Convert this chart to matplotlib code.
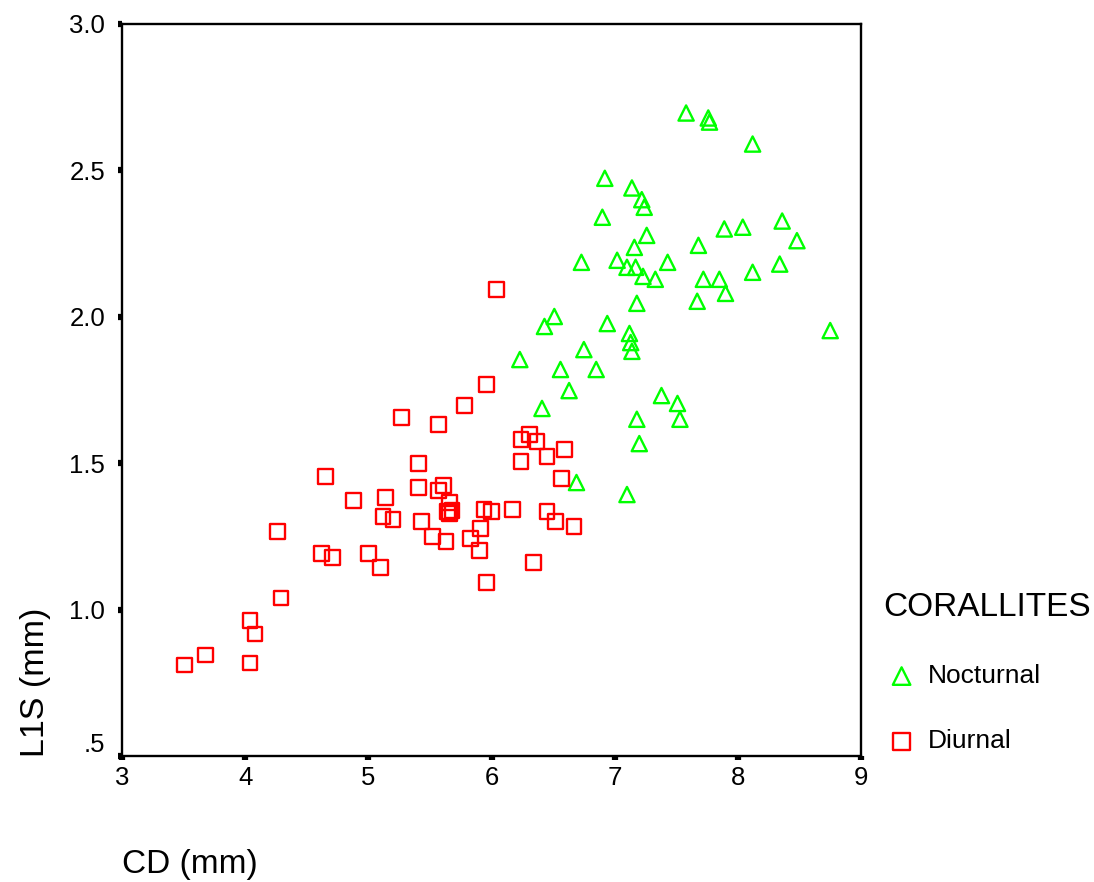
import matplotlib
matplotlib.use('Agg')
import matplotlib.pyplot as plt
from matplotlib.transforms import ScaledTranslation

plt.rcParams['font.family'] = ['Liberation Sans', 'DejaVu Sans']

# Nocturnal corallites: CD (mm) and L1S (mm)
noct_cd = [7.58, 7.76, 7.77, 8.12, 6.92, 7.14, 7.22, 7.24, 6.90, 7.26,
           7.16, 7.68, 7.89, 8.04, 8.36, 8.48, 6.73, 7.02, 7.10, 7.17,
           7.23, 7.33, 7.43, 7.72, 7.85, 7.90, 8.12, 8.34, 7.67, 7.18,
           8.75, 6.51, 6.43, 6.94, 7.12, 7.13, 7.14, 6.23, 6.75, 6.56,
           6.85, 6.63, 6.41, 7.38, 7.51, 7.53, 7.18, 7.20, 6.69, 7.10]
noct_l1s = [2.696, 2.679, 2.665, 2.590, 2.473, 2.440, 2.400, 2.374, 2.340, 2.278,
            2.237, 2.244, 2.300, 2.306, 2.327, 2.260, 2.186, 2.193, 2.169, 2.169,
            2.138, 2.128, 2.186, 2.128, 2.128, 2.080, 2.152, 2.180, 2.053, 2.046,
            1.953, 2.001, 1.967, 1.977, 1.943, 1.912, 1.882, 1.854, 1.888, 1.820,
            1.820, 1.748, 1.687, 1.731, 1.704, 1.650, 1.650, 1.567, 1.434, 1.393]

# Diurnal corallites
diur_cd = [6.04, 5.96, 5.78, 5.27, 5.57, 6.24, 6.31, 6.37, 6.45, 6.59,
           6.24, 6.57, 5.41, 4.65, 5.41, 5.57, 5.61, 4.88, 5.14, 5.12,
           5.20, 5.66, 5.64, 5.66, 5.68, 5.94, 6.00, 6.17, 6.45, 6.52,
           6.67, 5.43, 5.52, 5.63, 5.91, 5.83, 5.90, 5.96, 6.34, 4.26,
           4.62, 4.71, 5.00, 5.10, 4.29, 4.04, 4.08, 3.68, 3.51, 4.04]
diur_l1s = [2.094, 1.769, 1.697, 1.656, 1.632, 1.581, 1.598, 1.574, 1.523, 1.547,
            1.505, 1.447, 1.499, 1.454, 1.417, 1.406, 1.423, 1.372, 1.382, 1.317,
            1.307, 1.365, 1.334, 1.328, 1.338, 1.341, 1.334, 1.341, 1.334, 1.300,
            1.283, 1.300, 1.249, 1.232, 1.276, 1.242, 1.201, 1.092, 1.160, 1.266,
            1.191, 1.177, 1.191, 1.143, 1.040, 0.962, 0.917, 0.845, 0.811, 0.818]

x_ticks = [3, 4, 5, 6, 7, 8, 9]
y_ticks = [0.5, 1.0, 1.5, 2.0, 2.5, 3.0]
y_tick_labels = ['.5', '1.0', '1.5', '2.0', '2.5', '3.0']

fig = plt.figure(figsize=(10.94, 8.82), dpi=100)
W, H = 1094, 882
ax = fig.add_axes([122 / W, (H - 756) / H, 739 / W, 732 / H])

ax.scatter(noct_cd, noct_l1s, marker='^', s=120, facecolors='none',
           edgecolors='#00ff00', linewidths=1.7, label='Nocturnal', clip_on=False)
ax.scatter(diur_cd, diur_l1s, marker='s', s=112, facecolors='none',
           edgecolors='#ff0000', linewidths=1.7, label='Diurnal', clip_on=False)

ax.set_xlim(3, 9)
ax.set_ylim(0.5, 3.0)
ax.set_xticks(x_ticks)
ax.set_yticks(y_ticks)
ax.set_yticklabels(y_tick_labels)
for sp in ax.spines.values():
    sp.set_linewidth(1.7)
ax.tick_params(direction='out', length=3, width=4.5, labelsize=18.5, color='black')
ax.tick_params(axis='x', pad=4)
ax.tick_params(axis='y', pad=9)

# SPSS nudges the bottom y label up off the corner
lab = ax.get_yticklabels()[0]
lab.set_transform(lab.get_transform() + ScaledTranslation(0, 14 / 100, fig.dpi_scale_trans))

fig.text(122 / W, 1 - 865 / H, 'CD (mm)', fontsize=24, ha='left', va='center')
fig.text(36 / W, 1 - 757 / H, 'L1S (mm)', fontsize=24.5, rotation=90, ha='center', va='bottom')

fig.text(883 / W, 1 - 607 / H, 'CORALLITES', fontsize=24, ha='left', va='center')
leg = ax.legend(loc='upper left', bbox_to_anchor=(895 / W, 1 - 664 / H),
                bbox_transform=fig.transFigure, frameon=False, fontsize=19,
                handlelength=0.5, handletextpad=0.75, labelspacing=1.57,
                borderpad=0, borderaxespad=0, scatterpoints=1, markerscale=1.15)

fig.savefig('out.png', dpi=100)
